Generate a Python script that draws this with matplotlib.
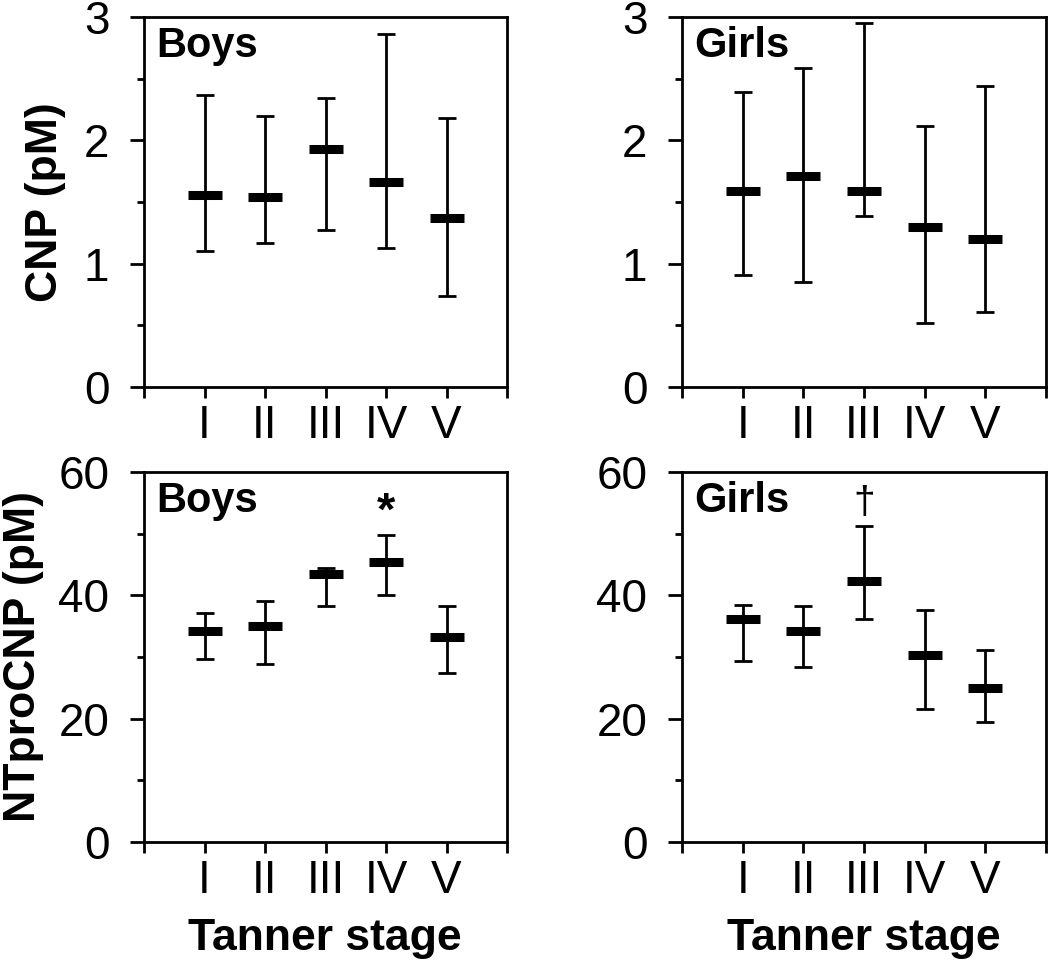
import matplotlib
matplotlib.use("Agg")
import matplotlib.pyplot as plt
import numpy as np
from matplotlib.ticker import MultipleLocator

plt.rcParams['font.family'] = ['Liberation Sans', 'DejaVu Sans']

stages = ['I', 'II', 'III', 'IV', 'V']

# CNP (pM)
boys_cnp_mean = [1.56, 1.54, 1.93, 1.66, 1.37]
boys_cnp_hi = [2.37, 2.20, 2.34, 2.86, 2.18]
boys_cnp_lo = [1.10, 1.17, 1.27, 1.13, 0.74]

girls_cnp_mean = [1.59, 1.71, 1.59, 1.30, 1.20]
girls_cnp_hi = [2.39, 2.59, 2.95, 2.12, 2.44]
girls_cnp_lo = [0.91, 0.85, 1.39, 0.52, 0.61]

# NTproCNP (pM)
boys_nt_mean = [34.2, 35.1, 43.5, 45.4, 33.2]
boys_nt_hi = [37.1, 39.1, 44.4, 49.8, 38.2]
boys_nt_lo = [29.7, 28.8, 38.2, 40.1, 27.4]

girls_nt_mean = [36.1, 34.2, 42.4, 30.3, 24.9]
girls_nt_hi = [38.5, 38.2, 51.2, 37.6, 31.2]
girls_nt_lo = [29.4, 28.3, 36.1, 21.5, 19.5]

dpi = 100
fig = plt.figure(figsize=(1050 / dpi, 960 / dpi), dpi=dpi)

W, H = 1050.0, 960.0


def make_ax(left, top, right, bottom):
    return fig.add_axes([left / W, 1 - bottom / H, (right - left) / W, (bottom - top) / H])


def panel(ax, mean, lo, hi, ymax, major, minor, title):
    x = np.arange(1, len(stages) + 1)
    mean = np.array(mean)
    err = [mean - np.array(lo), np.array(hi) - mean]
    ax.errorbar(x, mean, yerr=err, fmt='none', ecolor='black', elinewidth=2,
                capsize=6.5, capthick=2, clip_on=False)
    ax.plot(x, mean, ls='none', marker='_', ms=24, mew=6.5, color='black')
    ax.set_xlim(0, 6)
    ax.set_ylim(0, ymax)
    ax.set_xticks(range(0, 7))
    ax.set_xticklabels([''] + stages + [''], fontsize=33)
    ax.yaxis.set_major_locator(MultipleLocator(major))
    ax.yaxis.set_minor_locator(MultipleLocator(minor))
    ax.tick_params(axis='y', which='major', length=10, width=2, labelsize=33, pad=15)
    ax.tick_params(axis='y', which='minor', length=5, width=2)
    ax.tick_params(axis='x', which='major', length=8, width=2, pad=4)
    for s in ax.spines.values():
        s.set_linewidth(2)
    ax.text(0.033, 0.892, title, transform=ax.transAxes, fontsize=30,
            fontweight='bold', va='baseline', ha='left')


ax1 = make_ax(144, 17, 507, 387)
ax2 = make_ax(682, 17, 1046, 387)
ax3 = make_ax(144, 472, 507, 842)
ax4 = make_ax(682, 472, 1046, 842)

panel(ax1, boys_cnp_mean, boys_cnp_lo, boys_cnp_hi, 3, 1, 0.5, 'Boys')
panel(ax2, girls_cnp_mean, girls_cnp_lo, girls_cnp_hi, 3, 1, 0.5, 'Girls')
panel(ax3, boys_nt_mean, boys_nt_lo, boys_nt_hi, 60, 20, 10, 'Boys')
panel(ax4, girls_nt_mean, girls_nt_lo, girls_nt_hi, 60, 20, 10, 'Girls')

# significance marks
ax3.text(4, 53.4, '*', fontsize=34, fontweight='bold', ha='center', va='center')
ax4.text(3, 55.0, '\u2020', fontsize=28, ha='center', va='center')

fig.text(45 / W, 1 - 202 / H, 'CNP (pM)', rotation=90, fontsize=32,
         fontweight='bold', ha='center', va='center')
fig.text(24 / W, 1 - 657 / H, 'NTproCNP (pM)', rotation=90, fontsize=32,
         fontweight='bold', ha='center', va='center')
fig.text(325 / W, 1 - 950 / H, 'Tanner stage', fontsize=32, fontweight='bold',
         ha='center', va='baseline')
fig.text(864 / W, 1 - 950 / H, 'Tanner stage', fontsize=32, fontweight='bold',
         ha='center', va='baseline')

plt.savefig('out.png', dpi=dpi)
